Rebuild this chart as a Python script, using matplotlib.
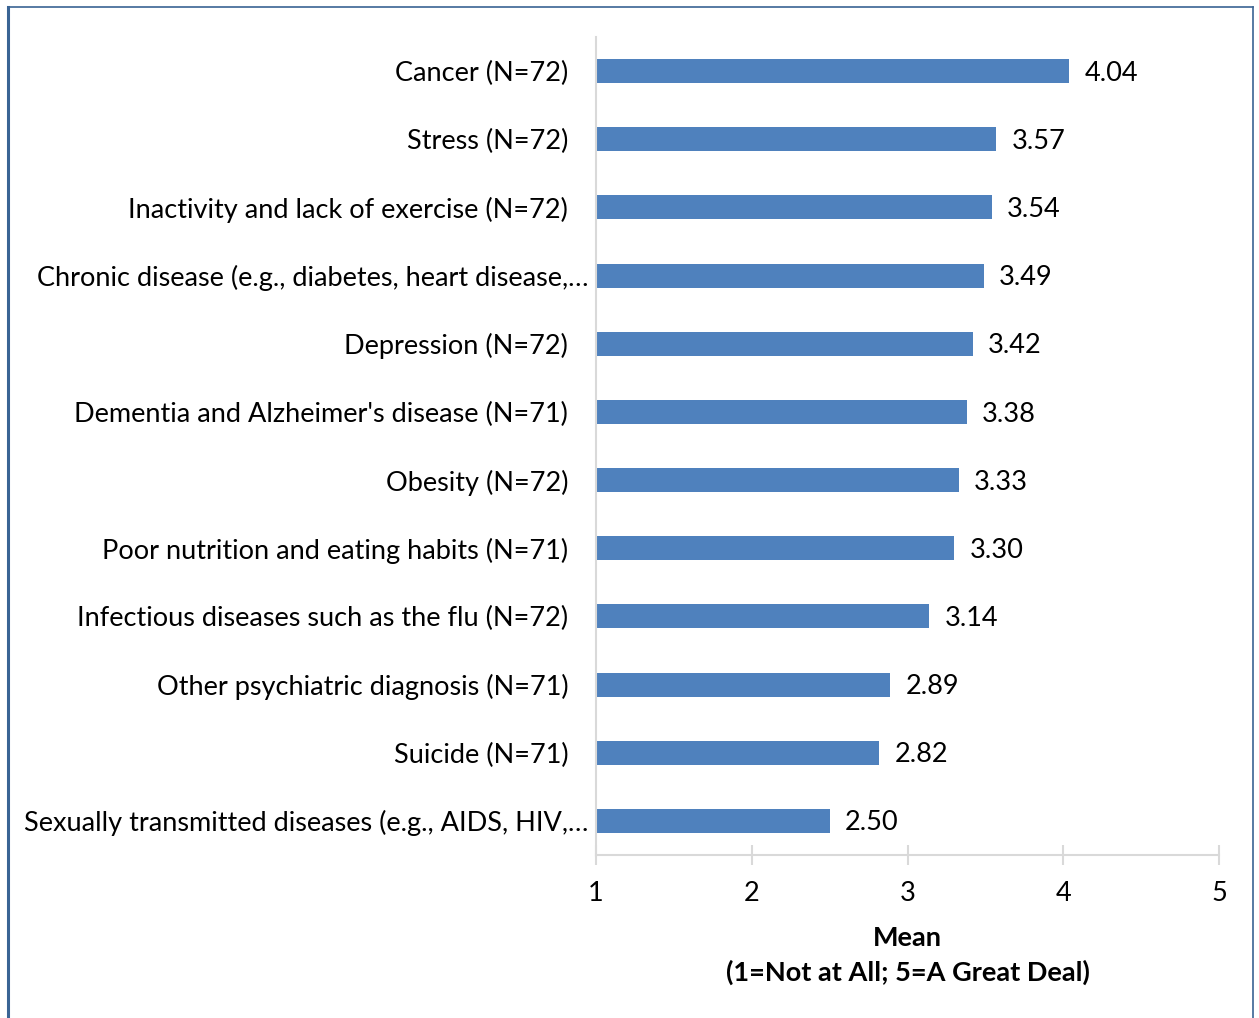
import matplotlib
matplotlib.use("Agg")
import matplotlib.pyplot as plt
from matplotlib.lines import Line2D
from matplotlib.transforms import ScaledTranslation

# categories top to bottom, as in the reference
labels = [
    "Cancer (N=72)",
    "Stress (N=72)",
    "Inactivity and lack of exercise (N=72)",
    "Chronic disease (e.g., diabetes, heart disease,\u2026",
    "Depression (N=72)",
    "Dementia and Alzheimer's disease (N=71)",
    "Obesity (N=72)",
    "Poor nutrition and eating habits (N=71)",
    "Infectious diseases such as the flu (N=72)",
    "Other psychiatric diagnosis (N=71)",
    "Suicide (N=71)",
    "Sexually transmitted diseases (e.g., AIDS, HIV,\u2026",
]
means = [4.04, 3.57, 3.54, 3.49, 3.42, 3.38, 3.33, 3.30, 3.14, 2.89, 2.82, 2.50]
xticks = [1, 2, 3, 4, 5]

plt.rcParams['font.family'] = ['Lato', 'DejaVu Sans']
fs = 19.5

W, H = 1259, 1018
fig = plt.figure(figsize=(W / 100, H / 100), dpi=100)
ax = fig.add_axes([596 / W, 1 - 855 / H, (1219 - 596) / W, (855 - 37) / H])

ypos = list(range(len(labels)))[::-1]
# bars start at the axis minimum (1)
ax.barh(ypos, [m - 1 for m in means], left=1, height=0.35, color='#4F81BD')

for y, m in zip(ypos, means):
    ax.annotate(f"{m:.2f}", (m, y), xytext=(11, -1.5), textcoords='offset points',
                va='center', ha='left', fontsize=fs, color='black')

ax.set_xlim(1, 5)
ax.set_ylim(-0.5, len(labels) - 0.5)
ax.set_xticks(xticks)
ax.set_xticklabels([str(t) for t in xticks])
ax.set_yticks(ypos)
ax.set_yticklabels(labels)

axis_col = '#D9D9D9'
for s in ['top', 'right']:
    ax.spines[s].set_visible(False)
ax.spines['left'].set_color(axis_col)
ax.spines['bottom'].set_color(axis_col)
ax.spines['left'].set_linewidth(1.5)
ax.spines['bottom'].set_linewidth(1.5)

ax.tick_params(axis='y', length=0, pad=20, labelsize=fs)
ax.tick_params(axis='x', direction='inout', length=14, width=1.5, color=axis_col,
               pad=12, labelsize=fs)

# truncated labels sit closer to the axis, like Excel does
shift = ScaledTranslation(20 / 100, 0, fig.dpi_scale_trans)
for lab in ax.get_yticklabels():
    if lab.get_text().endswith("\u2026"):
        lab.set_transform(lab.get_transform() + shift)

ax.set_xlabel("Mean\n(1=Not at All; 5=A Great Deal)", fontsize=fs,
              fontweight='bold', labelpad=14, linespacing=1.45)

# chart border (left, top, right edges visible)
bc = '#3A6494'
fig.add_artist(Line2D([8 / W, 8 / W], [0, 1 - 7 / H], color=bc, lw=2.2,
                      transform=fig.transFigure))
fig.add_artist(Line2D([8 / W, 1253 / W], [1 - 7 / H, 1 - 7 / H], color=bc, lw=1.2,
                      transform=fig.transFigure))
fig.add_artist(Line2D([1253 / W, 1253 / W], [0, 1 - 7 / H], color=bc, lw=1.2,
                      transform=fig.transFigure))

fig.savefig("out.png", dpi=100, facecolor='white')
